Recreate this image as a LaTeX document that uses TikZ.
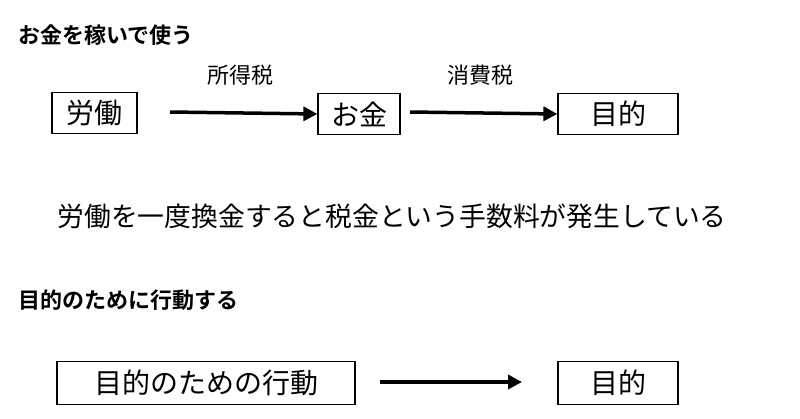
\documentclass[tikz,border=0pt]{standalone}
\usepackage{fontspec}
\setmainfont{Noto Sans CJK JP}
\newfontfamily\jpb{Noto Sans CJK JP}[BoldFont={* Bold}]
\usetikzlibrary{arrows.meta}
\begin{document}
\begin{tikzpicture}[x=1pt,y=-1pt,
  box/.style={draw,line width=1.2pt,inner sep=0pt,minimum height=41pt,font=\fontsize{28}{32}\selectfont},
  arr/.style={-{Triangle[length=14pt,width=14pt]},line width=3.5pt},
  lab/.style={font=\fontsize{22}{26}\selectfont},
  ttl/.style={anchor=west,inner sep=0pt,font=\fontsize{22}{26}\selectfont\bfseries}]
\useasboundingbox (0,0) rectangle (800,418);
\node[ttl] (t1) at (18,35) {\jpb\bfseries お金を稼いで使う};
\node[box,minimum width=85pt] (a) at (94.5,113) {労働};
\node[box,minimum width=82pt] (b) at (359,114) {お金};
\node[box,minimum width=120pt] (c) at (618,114) {目的};
\draw[arr] (170,112) -- (b.west);
\draw[arr] (410,112) -- (c.west);
\node[lab] (l1) at (240,75) {所得税};
\node[lab] (l2) at (480,75) {消費税};
\node[font=\fontsize{26.8}{30}\selectfont] (s) at (392,216) {労働を一度換金すると税金という手数料が発生している};
\node[ttl] (t2) at (18,300) {\jpb\bfseries 目的のために行動する};
\node[box,minimum width=298pt,minimum height=43pt] (d) at (206,383) {目的のための行動};
\node[box,minimum width=120pt,minimum height=43pt] (e) at (618,383) {目的};
\draw[arr] (380,382) -- (522,382);
\end{tikzpicture}
\end{document}
